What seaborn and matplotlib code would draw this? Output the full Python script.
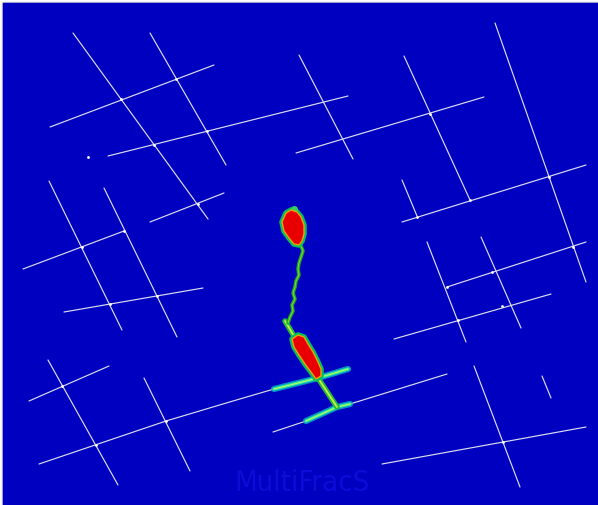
import pandas as pd
import seaborn as sns
import matplotlib.pyplot as plt
from matplotlib.patches import Rectangle, Polygon

# natural fractures (pixel coords of the model view), one polyline each
fractures = [
    [(73, 34), (208, 220)],
    [(150, 34), (226, 166)],
    [(50, 128), (214, 66)],
    [(108, 157), (348, 97)],
    [(296, 154), (484, 98)],
    [(299, 56), (353, 160)],
    [(49, 182), (122, 331)],
    [(104, 189), (177, 338)],
    [(150, 223), (224, 194)],
    [(23, 270), (124, 232)],
    [(64, 313), (203, 289)],
    [(48, 361), (118, 486)],
    [(29, 402), (109, 367)],
    [(144, 379), (190, 472)],
    [(39, 465), (166, 422), (233, 402), (274, 390)],
    [(273, 433), (306, 422)],
    [(350, 405), (447, 375)],
    [(404, 57), (470, 201)],
    [(495, 24), (586, 283)],
    [(402, 223), (586, 166)],
    [(402, 181), (417, 217)],
    [(427, 243), (466, 343)],
    [(481, 238), (521, 329)],
    [(447, 288), (586, 243)],
    [(394, 340), (551, 295)],
    [(474, 367), (520, 488)],
    [(542, 377), (551, 399)],
    [(382, 465), (586, 428)],
]
dots_x = [88, 121, 154, 176, 207, 198, 82, 124, 110, 157, 62, 96, 166, 430, 470, 549, 573, 447, 492, 458, 502, 503, 417]
dots_y = [158, 100, 146, 80, 132, 205, 248, 232, 305, 297, 387, 446, 422, 115, 201, 178, 248, 288, 273, 321, 307, 443, 218]

# hydraulic fracture parts
bar_upper = [(274, 390), (318, 379), (348, 370)]
bar_lower = [(306, 422), (337, 408), (350, 405)]
stem = [(285, 322), (300, 347), (318, 379), (337, 408)]
wiggle = [(301, 247), (303, 252), (301, 258), (299, 264), (298, 270), (299, 276), (296, 282),
          (295, 288), (293, 294), (295, 300), (292, 306), (293, 312), (290, 318), (288, 324)]
blob_upper = [(286, 214), (291, 211), (297, 213), (301, 218), (304, 226), (304, 235), (302, 242),
              (299, 246), (294, 245), (289, 239), (284, 232), (282, 223)]
blob_lower = [(292, 340), (298, 336), (304, 338), (308, 345), (313, 353), (317, 361), (321, 370),
              (321, 377), (316, 380), (311, 373), (305, 365), (299, 356), (294, 348)]
watermark = "MultiFracS"

BLUE = "#0000c0"

rows = []
for i, seg in enumerate(fractures):
    for x, y in seg:
        rows.append({"seg": i, "x": x, "y": y})
df = pd.DataFrame(rows)

sns.set_style("white")
fig = plt.figure(figsize=(5.98, 5.06), dpi=100)
ax = fig.add_axes([0, 0, 1, 1])
ax.set_xlim(0, 598)
ax.set_ylim(506, 0)
ax.axis("off")
ax.add_patch(Rectangle((0, 0), 598, 506, color="white", zorder=0))
ax.add_patch(Rectangle((2, 3), 598, 506, color="#c8c8d8", zorder=0))
ax.add_patch(Rectangle((3, 4), 598, 506, color=BLUE, zorder=0))

ax.text(302, 483, watermark, ha="center", va="center", fontsize=21, color="#0c0cd8",
        family=["Liberation Sans Narrow", "DejaVu Sans Condensed", "DejaVu Sans"],
        fontstretch="condensed", zorder=1)

sns.lineplot(data=df, x="x", y="y", units="seg", estimator=None, sort=False,
             color="#dcdcee", lw=0.85, legend=False, ax=ax, zorder=2)
sns.scatterplot(x=dots_x, y=dots_y, color="white", s=4, linewidth=0, ax=ax, zorder=3)

# crack glow layers
for pts in (bar_upper, bar_lower):
    xs, ys = zip(*pts)
    ax.plot(xs, ys, color="#00b0c8", lw=4.5, alpha=0.8, solid_capstyle="round", zorder=4)
    ax.plot(xs, ys, color="#30e8a0", lw=2.4, solid_capstyle="round", zorder=4)
    ax.plot(xs, ys, color="#b0ff60", lw=0.8, zorder=4)

xs, ys = zip(*stem)
ax.plot(xs, ys, color="#20b840", lw=4, solid_capstyle="round", zorder=5)
ax.plot(xs, ys, color="#c8f040", lw=1.3, zorder=5)

xs, ys = zip(*wiggle)
ax.plot(xs, ys, color="#10a830", lw=2.6, zorder=5)
ax.plot(xs, ys, color="#90d020", lw=0.8, zorder=5)

for blob in (blob_upper, blob_lower):
    ax.add_patch(Polygon(blob, closed=True, facecolor="none", edgecolor="#00c060",
                         lw=4, joinstyle="round", zorder=6))
    ax.add_patch(Polygon(blob, closed=True, facecolor="#e80000", edgecolor="#f0a000",
                         lw=1.0, joinstyle="round", zorder=7))
ax.scatter([294], [210], s=25, color="#30d060", linewidths=0, zorder=6)

ax.set_xlabel("")
ax.set_ylabel("")
fig.savefig("out.png", dpi=100)
